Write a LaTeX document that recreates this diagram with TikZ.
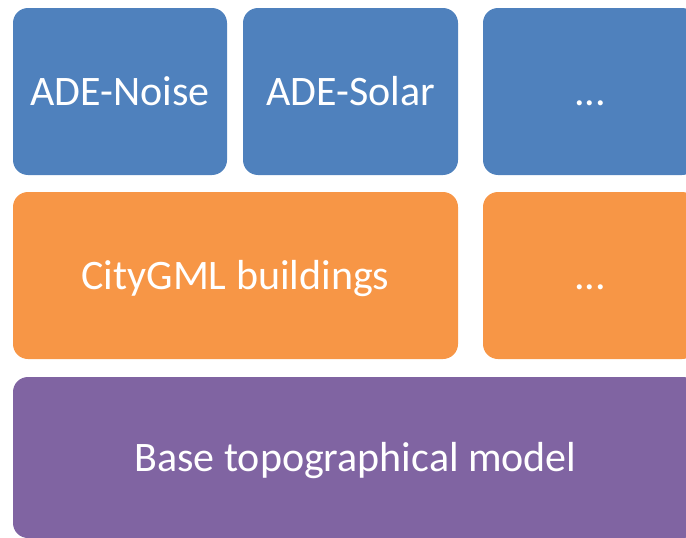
\documentclass[tikz,border=0pt]{standalone}
\usepackage{fontspec}
\setmainfont{Carlito}
\definecolor{adeblue}{HTML}{4F81BD}
\definecolor{cityorange}{HTML}{F79646}
\definecolor{basepurple}{HTML}{8064A2}
\begin{document}
\begin{tikzpicture}[x=1pt,y=-1pt,
  layer/.style={rounded corners=15pt, inner sep=0pt, text=white,
    font=\fontsize{42}{50}\selectfont, text height=27pt, text depth=0pt},
  ade/.style={layer, fill=adeblue},
  city/.style={layer, fill=cityorange},
  base/.style={layer, fill=basepurple}]
\useasboundingbox (0,0) rectangle (686,538);
\clip (0,0) rectangle (686,538);
% application domain extensions
\node[ade, minimum width=214pt, minimum height=167pt] (noise) at (120,91.5) {ADE-Noise};
\node[ade, minimum width=215pt, minimum height=167pt] (solar) at (350.5,91.5) {ADE-Solar};
\node[ade, minimum width=214pt, minimum height=167pt] (adeMore) at (590,91.5) {...};
% thematic modules
\node[city, minimum width=445pt, minimum height=167pt] (buildings) at (235.5,275.5) {CityGML buildings};
\node[city, minimum width=214pt, minimum height=167pt] (cityMore) at (590,275.5) {...};
% common base
\node[base, minimum width=685pt, minimum height=161pt] (topo) at (355.5,457.5) {Base topographical model};
\end{tikzpicture}
\end{document}
